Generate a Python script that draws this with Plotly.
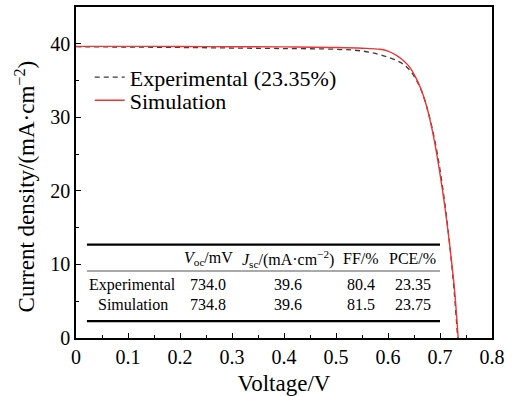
import plotly.graph_objects as go

# ---- data ----
exp_v = [0.00, 0.10, 0.20, 0.30, 0.40, 0.50, 0.552, 0.59, 0.623, 0.642, 0.655, 0.665,
         0.675, 0.685, 0.695, 0.705, 0.715, 0.725, 0.734]
exp_j = [39.6, 39.55, 39.5, 39.42, 39.35, 39.25, 39.0, 38.4, 37.5, 36.4, 35.0, 33.5,
         31.3, 28.5, 25.0, 20.5, 15.0, 8.2, 0.0]

sim_v = [0.00, 0.10, 0.20, 0.30, 0.40, 0.49, 0.55, 0.585, 0.60, 0.617, 0.63, 0.642,
         0.652, 0.662, 0.671, 0.68, 0.69, 0.70, 0.71, 0.72, 0.728, 0.735]
sim_j = [39.65, 39.65, 39.63, 39.6, 39.58, 39.5, 39.4, 39.25, 39.0, 38.4, 37.7, 36.8,
         35.6, 34.1, 32.3, 29.9, 26.5, 22.3, 17.5, 11.8, 6.5, 0.0]

series_names = ["Experimental (23.35%)", "Simulation"]

table_header = ["", "<i>V</i><sub>oc</sub>/mV", "<i>J</i><sub>sc</sub>/(mA·cm<sup>−2</sup>)",
                "FF/%", "PCE/%"]
table_rows = ["Experimental", "Simulation"]
voc = ["734.0", "734.8"]
jsc = ["39.6", "39.6"]
ff = ["80.4", "81.5"]
pce = ["23.35", "23.75"]

x_ticks = [0, 0.1, 0.2, 0.3, 0.4, 0.5, 0.6, 0.7, 0.8]
y_ticks = [0, 10, 20, 30, 40]

x_title = "Voltage/V"
y_title = "Current density/(mA·cm<sup>−2</sup>)"

FONT = "Liberation Serif, Times New Roman, Times, serif"

fig = go.Figure()
fig.add_trace(go.Scatter(x=exp_v, y=exp_j, mode="lines", name=series_names[0], legend="legend",
                         line=dict(color="#3a3a3a", width=1.3, dash="5px,4px", shape="spline")))
fig.add_trace(go.Scatter(x=sim_v, y=sim_j, mode="lines", name=series_names[1], legend="legend2",
                         line=dict(color="#f03434", width=1.4, shape="spline")))

# ---- table ----
col_x = [0.1096, 0.254, 0.408, 0.548, 0.648]
row_y = [10.8, 7.23, 4.5]
tfont = dict(family=FONT, size=16, color="black")
for cx, txt in zip(col_x, table_header):
    if txt:
        fig.add_annotation(x=cx, y=row_y[0], xref="x", yref="y", text=txt, showarrow=False,
                           font=tfont, xanchor="center", yanchor="middle")
for i, name in enumerate(table_rows):
    vals = [name, voc[i], jsc[i], ff[i], pce[i]]
    for cx, txt in zip(col_x, vals):
        fig.add_annotation(x=cx, y=row_y[i + 1], xref="x", yref="y", text=txt, showarrow=False,
                           font=tfont, xanchor="center", yanchor="middle")

x0t, x1t = 0.021, 0.70
fig.add_shape(type="line", xref="x", yref="y", x0=x0t, x1=x1t, y0=12.7, y1=12.7,
              line=dict(color="black", width=2.2))
fig.add_shape(type="line", xref="x", yref="y", x0=x0t, x1=x1t, y0=9.1, y1=9.1,
              line=dict(color="#555", width=1.1))
fig.add_shape(type="line", xref="x", yref="y", x0=x0t, x1=x1t, y0=2.3, y1=2.3,
              line=dict(color="black", width=2.2))

# y-axis title as a rotated annotation for precise placement
fig.add_annotation(x=-0.1226, y=0.458, xref="paper", yref="paper", text=y_title, showarrow=False,
                   textangle=-90, xanchor="center", yanchor="middle",
                   font=dict(family=FONT, size=23, color="black"))

axis_common = dict(showline=True, linecolor="black", linewidth=1.5, mirror=True,
                   ticks="inside", ticklen=5, tickwidth=1.2, tickcolor="black",
                   showgrid=False, zeroline=False, automargin=False,
                   tickfont=dict(family=FONT, size=20, color="black"))

fig.update_xaxes(range=[0, 0.8], tickvals=x_ticks, ticktext=[("0" if v == 0 else f"{v:g}") for v in x_ticks],
                 minor=dict(ticks="inside", ticklen=3, tickwidth=1, tickcolor="black", dtick=0.05, tick0=0),
                 title=dict(text=x_title, font=dict(family=FONT, size=23, color="black"), standoff=19),
                 **axis_common)
fig.update_yaxes(range=[0, 45], tickvals=y_ticks,
                 minor=dict(ticks="inside", ticklen=3, tickwidth=1, tickcolor="black", dtick=5, tick0=0),
                 **axis_common)

leg_common = dict(xanchor="left", yanchor="top", bgcolor="rgba(0,0,0,0)", borderwidth=0,
                  font=dict(family=FONT, size=22, color="black"), itemwidth=30)
fig.update_layout(
    width=513, height=396,
    margin=dict(l=76, r=21, t=7, b=58),
    paper_bgcolor="white", plot_bgcolor="white",
    font=dict(family=FONT),
    showlegend=True,
    legend=dict(x=0.033, y=0.851, **leg_common),
    legend2=dict(x=0.033, y=0.781, **leg_common),
)

fig.write_html("out.html")
